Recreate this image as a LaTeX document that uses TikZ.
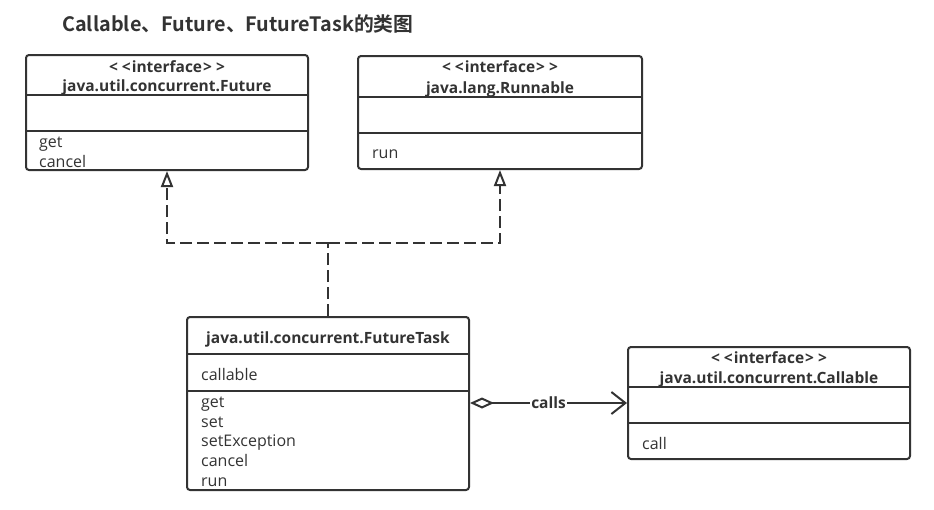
\documentclass[tikz,border=0pt]{standalone}
\usepackage{fontspec}
\setmainfont{Open Sans}
\newfontfamily\cjkfont{Noto Sans CJK SC}[BoldFont={Noto Sans CJK SC Bold}]
\usetikzlibrary{arrows.meta, positioning}
\definecolor{umlgray}{HTML}{333333}
\tikzstyle{classbox} = [rectangle, rounded corners=3pt, draw=umlgray, line width=2pt, inner sep=0pt]
\tikzstyle{divider} = [draw=umlgray, line width=2pt]
\tikzstyle{realize} = [umlgray, line width=2.5pt, dash pattern=on 12pt off 5pt]
\newcommand{\stereotype}{<\kern4pt<\kern1pt interface\kern1pt>\kern4pt>}

\begin{document}
\begin{tikzpicture}[x=1pt, y=-1pt,
    member/.style={anchor=base west, inner sep=0pt, text=umlgray,
        font=\fontsize{16}{19}\selectfont},
    stereo/.style={anchor=base, inner sep=0pt, text=umlgray,
        font=\fontsize{15.5}{19}\selectfont\bfseries},
    opentri/.style={-{Triangle[open, length=16pt, width=12pt, line width=2pt]}},
    aggr/.style={umlgray, line width=2pt,
        {Diamond[open, length=24pt, width=11pt, line width=2pt]}-{Straight Barb[length=14pt, width=22pt, line width=2pt]}}
]
    \useasboundingbox (0,0) rectangle (934,509);

    \node[anchor=base west, inner sep=0pt, text=umlgray,
        font=\cjkfont\bfseries\fontsize{19.8}{24}\selectfont] (title) at (62,31)
        {Callable、Future、FutureTask的类图};

    % interface Future
    \node[classbox, minimum width=282pt, minimum height=115pt] (future) at (167,112.5) {};
    \draw[divider] (future.west |- 0,95) -- (future.east |- 0,95);
    \draw[divider] (future.west |- 0,131) -- (future.east |- 0,131);
    \node[stereo] (futurestereo) at (167,72) {\stereotype};
    \node[stereo] (futurename) at (167,91.5) {java.util.concurrent.Future};
    \node[member] (futureget) at (39,147) {get};
    \node[member] (futurecancel) at (39,167) {cancel};

    % interface Runnable
    \node[classbox, minimum width=284pt, minimum height=113pt] (runnable) at (500,112.5) {};
    \draw[divider] (runnable.west |- 0,97) -- (runnable.east |- 0,97);
    \draw[divider] (runnable.west |- 0,133) -- (runnable.east |- 0,133);
    \node[stereo] (runnablestereo) at (500,72) {\stereotype};
    \node[stereo] (runnablename) at (500,93) {java.lang.Runnable};
    \node[member] (runnablerun) at (372,158) {run};

    % class FutureTask
    \node[classbox, minimum width=282pt, minimum height=173pt] (task) at (328,403.5) {};
    \draw[divider] (task.west |- 0,354) -- (task.east |- 0,354);
    \draw[divider] (task.west |- 0,391) -- (task.east |- 0,391);
    \node[stereo] (taskname) at (328,343) {java.util.concurrent.FutureTask};
    \node[member] (taskcallable) at (201,380) {callable};
    \foreach \op [count=\i] in {get,set,setException,cancel,run}
        \node[member] (taskop\i) at (201,387.8+19.7*\i) {\op};

    % interface Callable
    \node[classbox, minimum width=282pt, minimum height=112pt] (callable) at (769,403) {};
    \draw[divider] (callable.west |- 0,387) -- (callable.east |- 0,387);
    \draw[divider] (callable.west |- 0,423) -- (callable.east |- 0,423);
    \node[stereo] (callablestereo) at (769,363) {\stereotype};
    \node[stereo] (callablename) at (769,383) {java.util.concurrent.Callable};
    \node[member] (callablecall) at (642,449) {call};

    % realization
    \coordinate (join) at (328,243);
    \draw[realize] (task.north) -- (join);
    \draw[realize, opentri] (join) -| (future.south);
    \draw[realize, opentri] (join) -| (runnable.south);

    % aggregation
    \draw[aggr] (task.east |- callable.west) -- (callable.west)
        node[midway, fill=white, inner sep=1pt, text=umlgray,
            font=\fontsize{15.5}{19}\selectfont\bfseries] (calls) {calls};
\end{tikzpicture}
\end{document}
